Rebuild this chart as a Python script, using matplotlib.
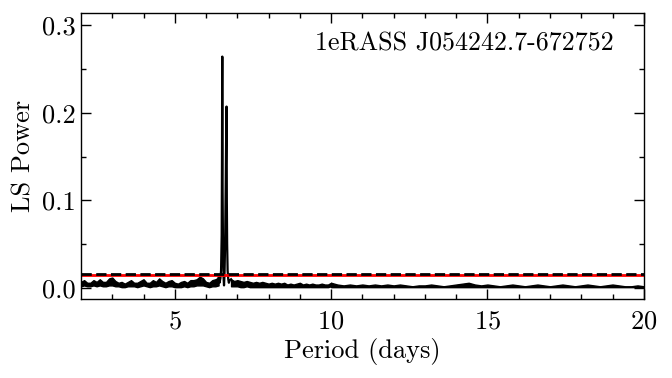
import numpy as np
import matplotlib
matplotlib.use("Agg")
import matplotlib.pyplot as plt

plt.rcParams['font.family'] = 'serif'
plt.rcParams['font.serif'] = ['cmr10']
plt.rcParams['mathtext.fontset'] = 'cm'
plt.rcParams['axes.formatter.use_mathtext'] = True

# ---- data ----
source_name = "1eRASS J054242.7-672752"

# noise band, short periods (0.1 d grid)
per_a = np.round(np.arange(2.0, 6.41, 0.1), 2)
hi_a = [0.007, 0.009, 0.006, 0.006, 0.009, 0.007, 0.010, 0.007, 0.007, 0.011,
        0.012, 0.008, 0.006, 0.007, 0.005, 0.007, 0.009, 0.006, 0.006, 0.008,
        0.010, 0.006, 0.006, 0.009, 0.007, 0.011, 0.008, 0.006, 0.008, 0.009,
        0.006, 0.005, 0.007, 0.008, 0.006, 0.009, 0.009, 0.010, 0.013, 0.011,
        0.007, 0.006, 0.009, 0.010, 0.012]
lo_a = [0.002, 0.003, 0.002, 0.002, 0.003, 0.002, 0.003, 0.002, 0.002, 0.003,
        0.003, 0.002, 0.002, 0.001, 0.001, 0.002, 0.002, 0.002, 0.001, 0.002,
        0.003, 0.002, 0.001, 0.002, 0.002, 0.003, 0.002, 0.001, 0.002, 0.002,
        0.001, 0.001, 0.001, 0.002, 0.001, 0.002, 0.002, 0.003, 0.003, 0.003,
        0.002, 0.001, 0.002, 0.002, 0.003]

per_b = np.round(np.arange(6.8, 10.01, 0.1), 2)
hi_b = [0.010, 0.008, 0.009, 0.008, 0.007, 0.008, 0.007, 0.006, 0.007, 0.006,
        0.007, 0.006, 0.005, 0.006, 0.005, 0.006, 0.005, 0.006, 0.004, 0.005,
        0.004, 0.005, 0.006, 0.004, 0.005, 0.004, 0.005, 0.004, 0.004, 0.005,
        0.004, 0.004, 0.006]
lo_b = [0.002, 0.002, 0.002, 0.001, 0.001, 0.002, 0.001, 0.001, 0.001, 0.001,
        0.001, 0.001, 0.001, 0.001, 0.001, 0.001, 0.001, 0.001, 0.001, 0.001,
        0.001, 0.001, 0.001, 0.001, 0.001, 0.001, 0.001, 0.001, 0.001, 0.001,
        0.001, 0.001, 0.002]

per_c = np.round(np.arange(10.0, 20.01, 0.2), 2)
hi_c = [0.006, 0.004, 0.003, 0.004, 0.003, 0.004, 0.003, 0.004, 0.003, 0.004,
        0.003, 0.004, 0.003, 0.002, 0.003, 0.003, 0.004, 0.003, 0.002, 0.003,
        0.004, 0.005, 0.006, 0.004, 0.003, 0.004, 0.003, 0.002, 0.003, 0.004,
        0.003, 0.002, 0.003, 0.004, 0.003, 0.002, 0.003, 0.004, 0.003, 0.002,
        0.003, 0.004, 0.003, 0.002, 0.003, 0.004, 0.003, 0.002, 0.002, 0.003,
        0.002]
lo_c = [0.001] * len(hi_c)

# peak region
peak_period = [6.40, 6.43, 6.46, 6.48, 6.50, 6.51, 6.515, 6.52, 6.525, 6.53,
               6.54, 6.55, 6.56, 6.575, 6.59, 6.61, 6.63, 6.645, 6.655, 6.66,
               6.665, 6.675, 6.69, 6.71, 6.73, 6.76, 6.80]
peak_power = [0.012, 0.006, 0.011, 0.020, 0.060, 0.150, 0.230, 0.264, 0.200, 0.110,
              0.060, 0.030, 0.012, 0.003, 0.015, 0.050, 0.120, 0.180, 0.207, 0.170,
              0.100, 0.050, 0.020, 0.010, 0.006, 0.009, 0.010]

thresh_red = 0.0145
thresh_black = 0.0155

# ---- plot ----
fig = plt.figure(figsize=(6.72, 3.78), dpi=100)
ax = fig.add_axes([0.1205, 0.209, 0.8375, 0.7566])

for per, lo, hi in [(per_a, lo_a, hi_a), (per_b, lo_b, hi_b), (per_c, lo_c, hi_c)]:
    ax.fill_between(per, lo, hi, color='k', lw=1.0, edgecolor='k')

ax.plot(peak_period, peak_power, color='k', lw=1.6)

ax.axhline(thresh_red, color='red', lw=2.0)
ax.axhline(thresh_black, color='k', lw=2.0, ls='--')

ax.set_xlim(2, 20)
ax.set_ylim(-0.0125, 0.3137)
ax.set_xticks([5, 10, 15, 20])
ax.set_yticks([0.0, 0.1, 0.2, 0.3])
ax.set_yticklabels(['0.0', '0.1', '0.2', '0.3'])
ax.set_xticks(np.arange(3, 20, 1), minor=True)
ax.set_yticks([0.05, 0.15, 0.25], minor=True)
ax.tick_params(which='both', direction='in', top=True, right=True, labelsize=19)
ax.tick_params(which='major', length=7, width=1)
ax.tick_params(which='minor', length=3.5, width=1)
ax.tick_params(axis='x', which='major', pad=8)
for s in ax.spines.values():
    s.set_linewidth(1.0)

ax.set_xlabel('Period (days)', fontsize=19, labelpad=3)
ax.set_ylabel('LS Power', fontsize=19, labelpad=5)
ax.text(0.947, 0.935, source_name, transform=ax.transAxes, ha='right', va='top',
        fontsize=18.7)

fig.savefig('out.png', dpi=100)
